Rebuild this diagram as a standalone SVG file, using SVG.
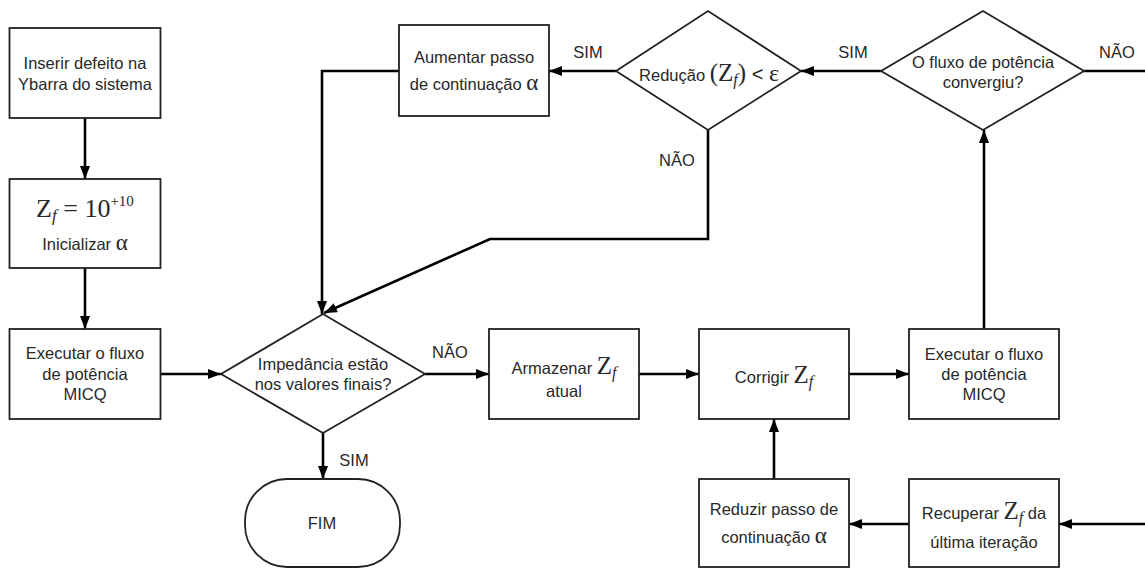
<svg xmlns="http://www.w3.org/2000/svg" width="1145" height="568" viewBox="0 0 1145 568">
<defs>
<marker id="ah" markerUnits="userSpaceOnUse" markerWidth="14" markerHeight="10" refX="13" refY="5" orient="auto">
<path d="M0,0 L13,5 L0,10 z" fill="#000"/>
</marker>
<style>
.box{fill:#fff;stroke:#222;stroke-width:1.8}
.t{font-family:"Liberation Sans",Arial,sans-serif;font-size:16.5px;fill:#282828;text-anchor:middle}
.m{font-family:"Liberation Serif","Times New Roman",serif;fill:#282828}
.c{fill:none;stroke:#000;stroke-width:2.6}
.a{marker-end:url(#ah)}
</style>
</defs>
<rect width="1145" height="568" fill="#fff"/>

<g id="connectors">
<path class="c a" d="M85,118 L85,179"/>
<path class="c a" d="M85,268 L85,329"/>
<path class="c a" d="M160,374 L221,374"/>
<path class="c a" d="M425,374 L489,374"/>
<path class="c a" d="M639,374 L699,374"/>
<path class="c a" d="M849,374 L909,374"/>
<path class="c a" d="M984,329 L984,130"/>
<path class="c a" d="M881,71 L801,71"/>
<path class="c a" d="M616,71 L549,71"/>
<path class="c a" d="M399,71 L322,71 L322,314"/>
<path class="c a" d="M708,130 L708,239 L490,239 L324,313"/>
<path class="c" d="M1084,71 L1145,71"/>
<path class="c a" d="M1145,524 L1059,524"/>
<path class="c a" d="M909,524 L849,524"/>
<path class="c a" d="M774,479 L774,419"/>
<path class="c a" d="M323,433 L323,479"/>
<text class="t" x="588" y="58">SIM</text>
<text class="t" x="853" y="58">SIM</text>
<text class="t" x="1117" y="58">NÃO</text>
<text class="t" x="677" y="166">NÃO</text>
<text class="t" x="450" y="358">NÃO</text>
<text class="t" x="354" y="466">SIM</text>
</g>

<g id="n1">
<rect class="box" x="9.5" y="28" width="151" height="90"/>
<text class="t" x="85" y="69">Inserir defeito na</text>
<text class="t" x="85" y="90">Ybarra do sistema</text>
</g>

<g id="n2">
<rect class="box" x="9.5" y="179" width="151" height="89"/>
<text class="m" x="85" y="217" text-anchor="middle" font-size="26"><tspan>Z</tspan><tspan font-style="italic" font-size="17" dy="4">f</tspan><tspan dy="-4"> = 10</tspan><tspan font-size="15" dy="-11">+10</tspan></text>
<text class="t" x="85" y="250">Inicializar <tspan class="m" font-size="23">α</tspan></text>
</g>

<g id="n3">
<rect class="box" x="9.5" y="329" width="151" height="90"/>
<text class="t" x="85" y="359">Executar o fluxo</text>
<text class="t" x="85" y="380">de potência</text>
<text class="t" x="85" y="400">MICQ</text>
</g>

<g id="n4">
<polygon class="box" points="221,374 323,314 425,374 323,433"/>
<text class="t" x="323" y="370">Impedância estão</text>
<text class="t" x="323" y="390">nos valores finais?</text>
</g>

<g id="n5">
<rect class="box" x="245" y="479" width="155" height="88" rx="42" ry="42"/>
<text class="t" x="322" y="529">FIM</text>
</g>

<g id="n6">
<rect class="box" x="489" y="329" width="150" height="90"/>
<text class="t" x="564" y="374">Armazenar <tspan class="m" font-size="25">Z</tspan><tspan class="m" font-size="16" font-style="italic" dy="4">f</tspan></text>
<text class="t" x="564" y="397">atual</text>
</g>

<g id="n7">
<rect class="box" x="699" y="329" width="150" height="90"/>
<text class="t" x="774" y="383">Corrigir <tspan class="m" font-size="25">Z</tspan><tspan class="m" font-size="16" font-style="italic" dy="4">f</tspan></text>
</g>

<g id="n8">
<rect class="box" x="909" y="329" width="150" height="90"/>
<text class="t" x="984" y="360">Executar o fluxo</text>
<text class="t" x="984" y="380">de potência</text>
<text class="t" x="984" y="400">MICQ</text>
</g>

<g id="n9">
<polygon class="box" points="881,71 983,11 1084,71 983,130"/>
<text class="t" x="983" y="68">O fluxo de potência</text>
<text class="t" x="983" y="88">convergiu?</text>
</g>

<g id="n10">
<polygon class="box" points="616,71 708,11 801,71 708,130"/>
<text class="t" x="709" y="81">Redução <tspan class="m" font-size="25">(Z</tspan><tspan class="m" font-size="16" font-style="italic" dy="4">f</tspan><tspan class="m" font-size="25" dy="-4">)</tspan><tspan font-size="20"> &lt; </tspan><tspan class="m" font-size="24">ε</tspan></text>
</g>

<g id="n11">
<rect class="box" x="399" y="25" width="150" height="91"/>
<text class="t" x="474" y="63">Aumentar passo</text>
<text class="t" x="474" y="90">de continuação <tspan class="m" font-size="23">α</tspan></text>
</g>

<g id="n12">
<rect class="box" x="699" y="479" width="150" height="88"/>
<text class="t" x="774" y="515">Reduzir passo de</text>
<text class="t" x="774" y="543">continuação <tspan class="m" font-size="23">α</tspan></text>
</g>

<g id="n13">
<rect class="box" x="909" y="479" width="150" height="88"/>
<text class="t" x="984" y="519">Recuperar  <tspan class="m" font-size="25">Z</tspan><tspan class="m" font-size="16" font-style="italic" dy="4">f</tspan><tspan dy="-4"> da</tspan></text>
<text class="t" x="984" y="548">última iteração</text>
</g>
</svg>
